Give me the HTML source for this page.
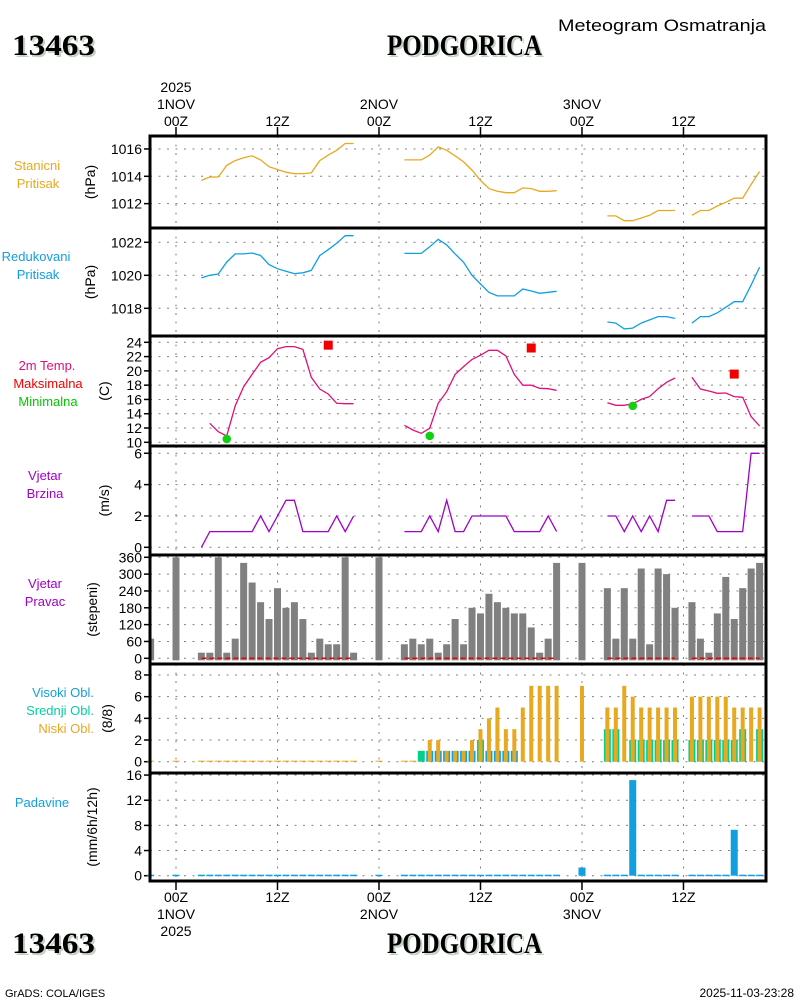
<!DOCTYPE html>
<html><head><meta charset="utf-8"><title>Meteogram Osmatranja - PODGORICA</title>
<style>
html,body{margin:0;padding:0;background:#fff;}
svg{display:block;font-family:"Liberation Sans",sans-serif;}
.t{font-size:14px;fill:#000;}
.l{font-size:13px;}
.title{font-family:"Liberation Serif",serif;font-weight:bold;font-size:30px;}
</style></head>
<body>
<svg id="chart" width="800" height="1000" viewBox="0 0 800 1000" xmlns="http://www.w3.org/2000/svg">
<g>
<text x="14" y="57" class="title" fill="#c4d2c4" textLength="83" lengthAdjust="spacingAndGlyphs">13463</text>
<text x="12" y="55" class="title" fill="#000" textLength="83" lengthAdjust="spacingAndGlyphs">13463</text>
<text x="389" y="57" class="title" fill="#c4d2c4" textLength="155" lengthAdjust="spacingAndGlyphs">PODGORICA</text>
<text x="387" y="55" class="title" fill="#000" textLength="155" lengthAdjust="spacingAndGlyphs">PODGORICA</text>
<text x="558" y="31" style="font-size:17px" textLength="208" lengthAdjust="spacingAndGlyphs">Meteogram Osmatranja</text>
</g>
<g>
<text x="14" y="955" class="title" fill="#c4d2c4" textLength="83" lengthAdjust="spacingAndGlyphs">13463</text>
<text x="12" y="953" class="title" fill="#000" textLength="83" lengthAdjust="spacingAndGlyphs">13463</text>
<text x="389" y="955" class="title" fill="#c4d2c4" textLength="155" lengthAdjust="spacingAndGlyphs">PODGORICA</text>
<text x="387" y="953" class="title" fill="#000" textLength="155" lengthAdjust="spacingAndGlyphs">PODGORICA</text>
<text x="5" y="997" style="font-size:11px">GrADS: COLA/IGES</text>
<text x="794" y="997" text-anchor="end" style="font-size:12px">2025-11-03-23:28</text>
</g>
<g>
<text x="37" y="170" text-anchor="middle" class="t l" style="fill:#e8a820">Stanicni</text>
<text x="38" y="188" text-anchor="middle" class="t l" style="fill:#e8a820">Pritisak</text>
<text x="36" y="261" text-anchor="middle" class="t l" style="fill:#10a0e0">Redukovani</text>
<text x="38" y="279" text-anchor="middle" class="t l" style="fill:#10a0e0">Pritisak</text>
<text x="47" y="370" text-anchor="middle" class="t l" style="fill:#e0107a">2m Temp.</text>
<text x="48" y="388" text-anchor="middle" class="t l" style="fill:#f00000">Maksimalna</text>
<text x="48" y="406" text-anchor="middle" class="t l" style="fill:#00c800">Minimalna</text>
<text x="45" y="480" text-anchor="middle" class="t l" style="fill:#a000c8">Vjetar</text>
<text x="45" y="498" text-anchor="middle" class="t l" style="fill:#a000c8">Brzina</text>
<text x="45" y="588" text-anchor="middle" class="t l" style="fill:#a000c8">Vjetar</text>
<text x="45" y="606" text-anchor="middle" class="t l" style="fill:#a000c8">Pravac</text>
<text x="94" y="697" text-anchor="end" class="t l" style="fill:#10a0e0">Visoki Obl.</text>
<text x="94" y="715" text-anchor="end" class="t l" style="fill:#00d0a0">Srednji Obl.</text>
<text x="94" y="733" text-anchor="end" class="t l" style="fill:#e8a820">Niski Obl.</text>
<text x="42" y="807" text-anchor="middle" class="t l" style="fill:#10a0e0">Padavine</text>
</g>
</svg>
<script>
// ---- data (hourly, starting at hour -3 relative to 1NOV 00Z) ----
const startHour = -3;
const stationPressure = [null,null,null,null,null,null,
1013.7,1013.95,1013.95,1014.8,1015.15,1015.35,1015.5,1015.2,1014.7,1014.5,1014.3,1014.2,1014.2,1014.25,1015.15,1015.55,1015.9,1016.4,1016.4,
null,null,null,null,null,
1015.2,1015.2,1015.2,1015.55,1016.15,1015.9,1015.5,1015.05,1014.45,1013.7,1013.1,1012.9,1012.8,1012.8,1013.15,1013.1,1012.9,1012.9,1012.95,
null,null,null,null,null,
1011.1,1011.1,1010.75,1010.75,1010.95,1011.15,1011.5,1011.5,1011.5,
null,
1011.15,1011.5,1011.5,1011.83,1012.1,1012.4,1012.4,1013.4,1014.35];
const reducedPressure = [null,null,null,null,null,null,
1019.84,1020.0,1020.08,1020.8,1021.3,1021.3,1021.35,1021.2,1020.65,1020.4,1020.25,1020.1,1020.15,1020.3,1021.2,1021.55,1021.94,1022.4,1022.4,
null,null,null,null,null,
1021.33,1021.33,1021.33,1021.73,1022.18,1021.84,1021.3,1020.79,1020.0,1019.47,1018.97,1018.75,1018.75,1018.75,1019.17,1019.05,1018.91,1018.97,1019.03,
null,null,null,null,null,
1017.17,1017.1,1016.75,1016.8,1017.1,1017.3,1017.5,1017.5,1017.39,
null,
1017.1,1017.5,1017.5,1017.73,1018.06,1018.4,1018.4,1019.4,1020.5];
const temperature = [null,null,null,null,null,null,
null,12.66,11.49,10.9,15.1,17.8,19.5,21.2,21.85,23.1,23.4,23.4,23.0,19.1,17.46,16.76,15.46,15.4,15.4,
null,null,null,null,null,
12.38,11.72,11.26,11.96,15.46,17.08,19.5,20.6,21.6,22.2,22.88,22.88,22.1,19.5,18.0,18.0,17.56,17.5,17.28,
null,null,null,null,null,
15.55,15.18,15.18,15.37,16.0,16.4,17.5,18.4,19.0,
null,
19.1,17.46,17.18,16.86,16.9,16.4,16.3,13.6,12.28];
const tmaxHours = [18, 42, 66];
const tmaxValues = [23.6, 23.2, 19.55];
const tminHours = [6, 30, 54];
const tminValues = [10.46, 10.9, 15.1];
const windSpeed = [null,null,null,null,null,null,
0,1,1,1,1,1,1,2,1,2,3,3,1,1,1,1,2,1,2,
null,null,null,null,null,
1,1,1,2,1,3,1,1,2,2,2,2,2,1,1,1,1,2,1,
null,null,null,null,null,
2,2,1,2,1,2,1,3,3,
null,
2,2,2,1,1,1,1,6,6];
const windDir = [70,null,null,360,null,null,
20,20,360,20,70,340,270,200,140,250,180,200,140,20,70,50,50,360,20,
null,null,360,null,null,
50,70,50,70,20,50,140,50,180,160,230,200,180,160,160,110,20,70,340,
null,null,340,null,null,
250,70,250,70,320,50,320,300,180,
null,
200,70,20,160,290,140,250,320,340];
const highCloud = [0,null,null,0,null,null,
0,0,0,0,0,0,0,0,0,0,0,0,0,0,0,0,0,0,0,
null,null,0,null,null,
0,0,0,1,1,1,1,1,1,0,1,1,1,1,0,0,0,0,0,
null,null,0,null,null,
0,0,0,0,0,0,0,0,0,
null,
0,0,0,0,0,0,0,0,0];
const midCloud = [0,null,null,0,null,null,
0,0,0,0,0,0,0,0,0,0,0,0,0,0,0,0,0,0,0,
null,null,0,null,null,
0,0,1,0,0,0,0,0,0,2,0,0,0,0,0,0,0,0,0,
null,null,0,null,null,
3,3,0,2,2,2,2,2,2,
null,
2,2,2,2,2,2,3,0,3];
const lowCloud = [0,null,null,0,null,null,
0,0,0,0,0,0,0,0,0,0,0,0,0,0,0,0,0,0,0,
null,null,0,null,null,
0,0,0,2,2,1,1,1,2,3,4,5,3,3,5,7,7,7,7,
null,null,7,null,null,
5,5,7,6,5,5,5,5,5,
null,
6,6,6,6,6,5,5,5,5];
const precip = [0,null,null,0,null,null,
0,0,0,0,0,0,0,0,0,0,0,0,0,0,0,0,0,0,0,
null,null,0,null,null,
0,0,0,0,0,0,0,0,0,0,0,0,0,0,0,0,0,0,0,
null,null,1.3,null,null,
0,0,0,15.2,0,0,0,0,0,
null,
0,0,0,0,0,7.3,0,0,0];
const pTicks1 = [1012,1014,1016];
const pTicks2 = [1018,1020,1022];
const tTicks = [10,12,14,16,18,20,22,24];
const wsTicks = [0,2,4,6];
const wdTicks = [0,60,120,180,240,300,360];
const cTicks = [0,2,4,6,8];
const rTicks = [0,4,8,12,16];
const timeTickHours = [0,12,24,36,48,60];
const topTimeLabels = [["2025","1NOV","00Z"],["12Z"],["2NOV","00Z"],["12Z"],["3NOV","00Z"],["12Z"]];
const bottomTimeLabels = [["00Z","1NOV","2025"],["12Z"],["00Z","2NOV"],["12Z"],["00Z","3NOV"],["12Z"]];

// ---- scales ----
const X0 = 150, X1 = 766;
const xOf = h => 176 + h * 8.458;
const panels = [
 {name:'station-pressure', top:136, bot:228, y:v=>176.3-(v-1014)*13.67, ticks:pTicks1, unit:'(hPa)', ux:95},
 {name:'reduced-pressure', top:228, bot:336, y:v=>275.3-(v-1020)*16.5, ticks:pTicks2, unit:'(hPa)', ux:95},
 {name:'temperature', top:336, bot:446, y:v=>442.3-(v-10)*7.143, ticks:tTicks, unit:'(C)', ux:109},
 {name:'wind-speed', top:446, bot:555, y:v=>547.3-v*15.67, ticks:wsTicks, unit:'(m/s)', ux:109},
 {name:'wind-direction', top:555, bot:664, y:v=>658.3-v*0.2806, ticks:wdTicks, unit:'(stepeni)', ux:97},
 {name:'cloud-cover', top:664, bot:773, y:v=>761.7-v*10.84, ticks:cTicks, unit:'(8/8)', ux:112},
 {name:'precipitation', top:773, bot:881, y:v=>875.7-v*6.29, ticks:rTicks, unit:'(mm/6h/12h)', ux:97}
];
const NS = 'http://www.w3.org/2000/svg';
const svg = document.getElementById('chart');
function mk(tag, attrs, parent){ const e=document.createElementNS(NS,tag); for(const k in attrs) e.setAttribute(k,attrs[k]); (parent||svg).appendChild(e); return e; }
const hourAt = i => startHour + i;

function line(arr, panel, color, g){
  let d='', pen=false;
  arr.forEach((v,i)=>{
    if(v===null){pen=false;return;}
    const x=xOf(hourAt(i)), y=panel.y(v);
    d += (pen?'L':'M')+x.toFixed(1)+' '+y.toFixed(1)+' '; pen=true;
  });
  return mk('path',{d:d,fill:'none',stroke:color,'stroke-width':1.3},g);
}

panels.forEach((p,pi)=>{
  const g = mk('g',{});
  
  
  p.ticks.forEach(t=>{
    const y=p.y(t);
    const gl = mk('line',{x1:X0,x2:X1,y1:y,y2:y,stroke:'#808080','stroke-width':1,'stroke-dasharray':'2 6.5'},g);
    
    
    const tk = mk('line',{x1:X0-6,x2:X0,y1:y,y2:y,stroke:'#000','stroke-width':1.5},g);
    
    
    const tl = mk('text',{x:X0-8,y:y+5,'text-anchor':'end',class:'t'},g);
    tl.textContent = t;
    
    
  });
  timeTickHours.forEach(h=>{
    const x=xOf(h);
    const vl = mk('line',{x1:x,x2:x,y1:p.top,y2:p.bot,stroke:'#808080','stroke-width':1,'stroke-dasharray':'2 6.5'},g);
    
    
  });
  const cy=(p.top+p.bot)/2;
  const ul = mk('text',{x:p.ux,y:cy,'text-anchor':'middle',class:'t',transform:'rotate(-90 '+p.ux+' '+cy+')'},g);
  ul.textContent = p.unit;
  
  
});

const P=panels;
let s;
s = line(stationPressure, P[0], '#e8a820');


s = line(reducedPressure, P[1], '#10a0e0');


s = line(temperature, P[2], '#e0107a');


tmaxHours.forEach((h,i)=>{
  const r = mk('rect',{x:xOf(h)-4.5,y:P[2].y(tmaxValues[i])-4.5,width:9,height:9,fill:'#f00000'});
  
  
});
tminHours.forEach((h,i)=>{
  const c = mk('circle',{cx:xOf(h),cy:P[2].y(tminValues[i]),r:4.3,fill:'#10d010'});
  
  
});
s = line(windSpeed, P[3], '#a000c8');



windDir.forEach((v,i)=>{
  if(v===null) return;
  const x=xOf(hourAt(i));
  const y=P[4].y(v), y0=P[4].y(0)+2;
  const x0=Math.max(X0, x-3.5);
  const r = mk('rect',{x:x0,y:y,width:(x+3.5)-x0,height:y0-y,fill:'#808080'});
  
  
});
{
  let d='', pen=false;
  stationPressure.forEach((v,i)=>{
    if(v===null){pen=false;return;}
    const x=xOf(hourAt(i)), y=P[4].y(0);
    d += (pen?'L':'M')+x.toFixed(1)+' '+y.toFixed(1)+' '; pen=true;
  });
  const rl = mk('path',{d:d,fill:'none',stroke:'#f00000','stroke-width':1.5,'stroke-dasharray':'5 3'});
  
  
}

lowCloud.forEach((v,i)=>{
  if(v===null) return;
  const x=xOf(hourAt(i)), base=P[5].y(0);
  const hc=highCloud[i], mc=midCloud[i];
  if(hc>0){ const r=mk('rect',{x:x-3.5,y:P[5].y(hc),width:7,height:base-P[5].y(hc),fill:'#10a0e0'});
    
     }
  if(mc>0){ const r=mk('rect',{x:x-3.5,y:P[5].y(mc),width:7,height:base-P[5].y(mc),fill:'#00d08a'});
    
     }
  if(v>0){ const r=mk('rect',{x:x-2,y:P[5].y(v),width:4,height:base-P[5].y(v),fill:'#e8a820'});
    
     }
  if(v===0 && hc===0 && mc===0){ const r=mk('rect',{x:x-3.5,y:base-1,width:7,height:1,fill:'#e8a820'});
    
     }
});

precip.forEach((v,i)=>{
  if(v===null) return;
  const x=xOf(hourAt(i)), base=P[6].y(0);
  const y=P[6].y(v);
  const r=mk('rect',{x:x-3.5,y:v>0?y:base-1,width:7,height:v>0?base-y:1.5,fill:'#10a0e0'});
  
  
});

panels.forEach(p=>{
  const f=mk('rect',{x:X0,y:p.top,width:X1-X0,height:p.bot-p.top,fill:'none',stroke:'#000','stroke-width':3});
  
  
});

timeTickHours.forEach((h,i)=>{
  const x=xOf(h);
  const t1=mk('line',{x1:x,x2:x,y1:127,y2:136,stroke:'#000','stroke-width':1.5});
  
  
  const t2=mk('line',{x1:x,x2:x,y1:881,y2:890,stroke:'#000','stroke-width':1.5});
  
  
  const tl=topTimeLabels[i];
  tl.forEach((txt,k)=>{
    const e=mk('text',{x:x,y:126-(tl.length-1-k)*17,'text-anchor':'middle',class:'t'});
    e.textContent=txt;
    
    
  });
  bottomTimeLabels[i].forEach((txt,k)=>{
    const e=mk('text',{x:x,y:902+k*17,'text-anchor':'middle',class:'t'});
    e.textContent=txt;
    
    
  });
});
</script>
</body></html>
